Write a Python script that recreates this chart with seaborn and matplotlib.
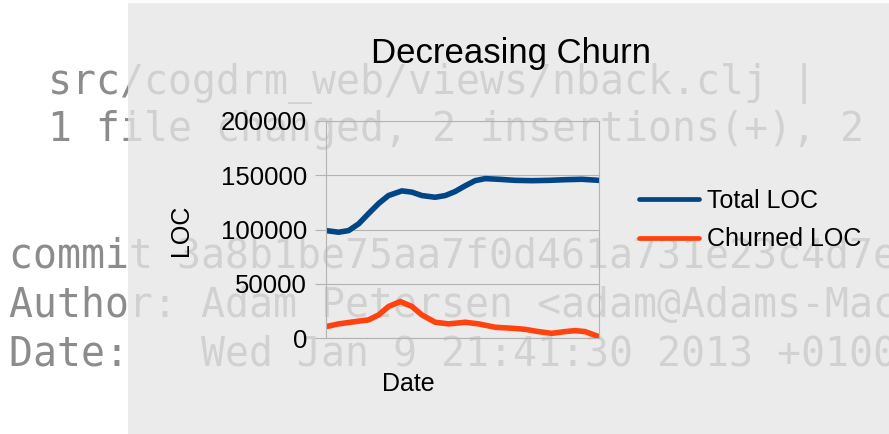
import matplotlib
matplotlib.use("Agg")
import matplotlib.pyplot as plt
from matplotlib.patches import Rectangle
import pandas as pd
import seaborn as sns

# ── Data ────────────────────────────────────────────────────────────────────
# x is position along the (unlabelled) date axis, 0 = first commit, 100 = last
total_x = [0, 4.6, 8.3, 12, 15.6, 19.3, 22.9, 27.8, 31.5, 35.1, 40, 43.7,
           47.3, 51, 54.6, 58.3, 63.2, 69.3, 75.4, 81.5, 87.6, 93.7, 100]
total_loc = [99000, 97500, 99000, 105300, 114700, 124000, 131300, 135600,
             134400, 131300, 129700, 131300, 135000, 140300, 145000, 146900,
             146300, 145300, 145000, 145300, 145900, 146300, 145300]

churn_x = [0, 4.6, 10.7, 15.6, 19.3, 22.9, 27.2, 31.5, 35.1, 40, 44.9, 51,
           55.9, 62, 68, 72.9, 77.8, 82.7, 87.6, 91.2, 94.9, 100]
churn_loc = [10500, 13000, 15100, 16700, 21300, 29000, 33600, 29000, 21300,
             14500, 13000, 14500, 13000, 9900, 9000, 8000, 5900, 4300, 5900,
             6800, 5900, 1200]

series_names = ['Total LOC', 'Churned LOC']
series_colors = ['#004586', '#ff420e']
y_ticks = [0, 50000, 100000, 150000, 200000]

# git log text behind the chart
log_lines = [
    "src/cogdrm_web/views/nback.clj |",
    "1 file changed, 2 insertions(+), 2 deletions(-)",
    "commit 3a8b1be75aa7f0d461a731e23c4d7e",
    "Author: Adam Petersen <adam@Adams-MacBook-Pro.local>",
    "Date:   Wed Jan 9 21:41:30 2013 +0100",
]
log_x_px = [48, 48, 9, 9, 9]
log_base_px = [94, 141, 268, 317, 365]

W, H = 889, 434

sns.set_style("white")
plt.rcParams['font.family'] = ['Liberation Sans', 'DejaVu Sans']
plt.rcParams['text.color'] = 'black'
plt.rcParams['axes.labelcolor'] = 'black'

df = pd.concat([
    pd.DataFrame({'Date': total_x, 'LOC': total_loc, 'series': series_names[0]}),
    pd.DataFrame({'Date': churn_x, 'LOC': churn_loc, 'series': series_names[1]}),
])

fig = plt.figure(figsize=(W / 100, H / 100), dpi=100)
fig.patch.set_facecolor('white')

# background terminal text
for txt, xp, yp in zip(log_lines, log_x_px, log_base_px):
    fig.text(xp / W, 1 - yp / H, txt, family='DejaVu Sans Mono', fontsize=28.7,
             color='#8c8c8c', va='baseline', ha='left', zorder=0)

# semi-transparent chart panel over the text
fig.patches.append(Rectangle((128 / W, 0), 1, 1 - 3 / H, transform=fig.transFigure,
                             facecolor='#e6e6e6', alpha=0.774, edgecolor='none',
                             zorder=0.5))

ax = fig.add_axes([326 / W, 1 - 338 / H, 273 / W, 217 / H], zorder=1)
ax.patch.set_alpha(0)

sns.lineplot(data=df, x='Date', y='LOC', hue='series', hue_order=series_names,
             palette=dict(zip(series_names, series_colors)), linewidth=4,
             ax=ax)
for line in ax.get_lines():
    line.set_solid_joinstyle('round')

ax.set_xlim(0, 100)
ax.set_ylim(0, 200000)
ax.set_xticks([])
ax.set_yticks(y_ticks)
ax.set_yticklabels([str(t) for t in y_ticks])
ax.tick_params(axis='y', direction='out', length=8, width=0.8, color='#b3b3b3',
               pad=5.5, labelsize=18.5, labelcolor='black', left=True)
ax.grid(axis='y', color='#b3b3b3', linewidth=0.8)
for sp in ax.spines.values():
    sp.set_visible(True)
    sp.set_color('#b3b3b3')
    sp.set_linewidth(0.8)

ax.set_title('Decreasing Churn', fontsize=25, color='black', pad=0,
             x=(511 - 326) / 273, y=(338 - 63) / 217, va='baseline')

ax.set_xlabel('Date', fontsize=18)
ax.xaxis.set_label_coords((408 - 326) / 273, (338 - 372) / 217)
ax.set_ylabel('LOC', fontsize=18)
ax.yaxis.set_label_coords((193 - 326) / 273, (338 - 230) / 217)

handles, labels = ax.get_legend_handles_labels()
ax.legend(handles, labels, loc='center left', bbox_to_anchor=(639 / W, 1 - 220 / H),
          bbox_transform=fig.transFigure, frameon=False, fontsize=18,
          handlelength=2.4, handletextpad=0.32, labelspacing=0.58,
          borderpad=0, borderaxespad=0)
for line in ax.get_legend().get_lines():
    line.set_linewidth(3.4)

fig.savefig('out.png', dpi=100)
